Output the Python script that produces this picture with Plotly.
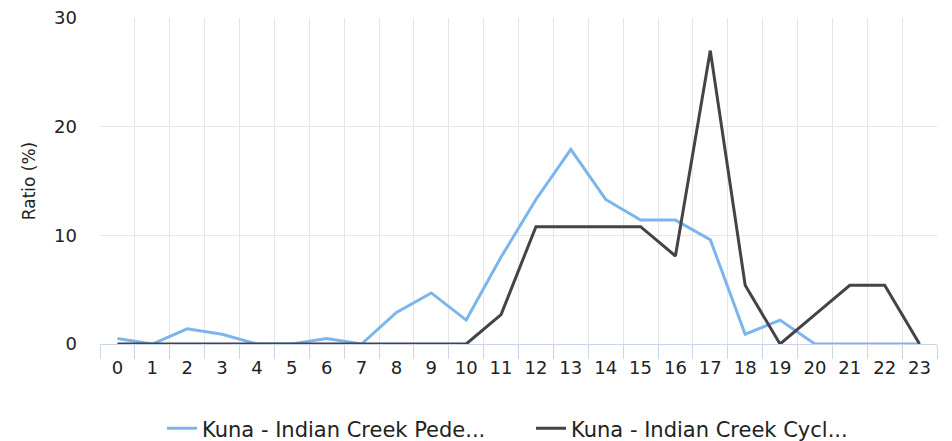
import plotly.graph_objects as go

hours = [str(h) for h in range(24)]
pedestrian = [0.5, 0, 1.4, 0.9, 0, 0, 0.5, 0, 2.9, 4.7, 2.2, 8.0, 13.3, 17.9, 13.3, 11.4, 11.4, 9.6, 0.9, 2.2, 0, 0, 0, 0]
cyclist = [0, 0, 0, 0, 0, 0, 0, 0, 0, 0, 0, 2.7, 10.8, 10.8, 10.8, 10.8, 8.1, 27.0, 5.4, 0, 2.7, 5.4, 5.4, 0]
series_names = ["Kuna - Indian Creek Pede...", "Kuna - Indian Creek Cycl..."]
y_ticks = [0, 10, 20, 30]

FONT = "DejaVu Sans"

fig = go.Figure()
fig.add_trace(go.Scatter(x=hours, y=pedestrian, mode="lines", name=series_names[0],
                         line=dict(color="#7cb5ec", width=3)))
fig.add_trace(go.Scatter(x=hours, y=cyclist, mode="lines", name=series_names[1],
                         line=dict(color="#434348", width=3)))

fig.update_layout(
    width=952, height=441,
    margin=dict(l=92, r=23, t=10, b=105, autoexpand=False),
    paper_bgcolor="white", plot_bgcolor="white",
    font=dict(family=FONT, color="#222222", size=17),
    showlegend=True,
    legend=dict(orientation="h", x=(162 - 100) / 837, xanchor="left", y=-0.197, yanchor="top",
                font=dict(size=21, color="#222222"), itemwidth=30,
                entrywidth=324, entrywidthmode="pixels",
                traceorder="normal", bgcolor="rgba(0,0,0,0)"),
    xaxis=dict(type="category", tickson="boundaries", showgrid=True, gridcolor="#e6e6e6",
               gridwidth=1, showline=True, linecolor="#ccd6eb", linewidth=1,
               ticks="outside", ticklen=14, tickcolor="#ccd6eb", ticklabelstandoff=7,
               tickfont=dict(size=18), range=[-0.5, 23.5], zeroline=False, automargin=False,
               ticklabeloverflow="allow"),
    yaxis=dict(range=[0, 30], tickvals=y_ticks, showgrid=True, gridcolor="#e6e6e6",
               zeroline=False, showline=False, tickfont=dict(size=18), automargin=False,
               title=dict(text="Ratio (%)", font=dict(size=17), standoff=14),
               ticklabelstandoff=22, ticklabeloverflow="allow"),
)

fig.write_html("out.html")
